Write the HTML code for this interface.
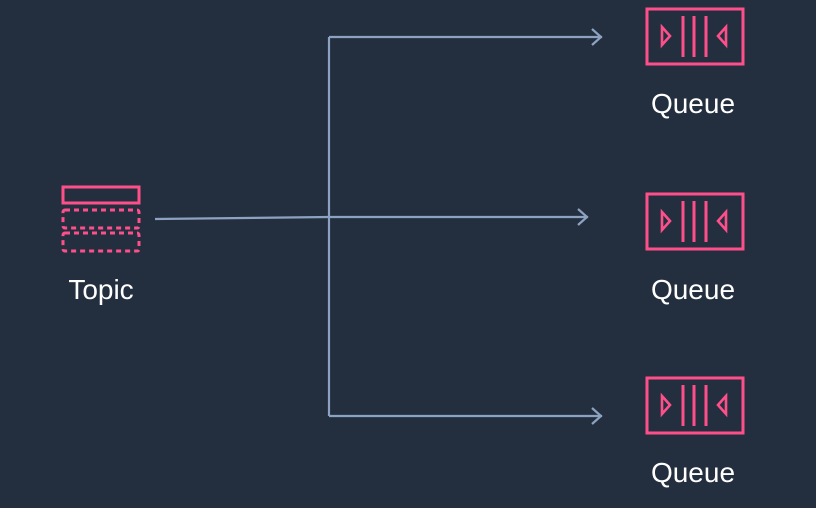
<!DOCTYPE html>
<html><head><style>
html,body{margin:0;padding:0;background:#232f3e;}
svg{display:block}
text{font-family:"Liberation Sans","DejaVu Sans",sans-serif;font-size:28px;fill:#fff;text-anchor:middle}
</style></head><body>
<svg width="816" height="508" viewBox="0 0 816 508">
<rect width="816" height="508" fill="#232f3e"/>
<g stroke="#8da2c0" stroke-width="2.2" fill="none">
<path d="M155 219 L329 217 L588 217"/>
<path d="M329 37 V416"/>
<path d="M329 37 H602"/>
<path d="M329 416 H602"/>
<path d="M592 29 L601 37 L592 45"/>
<path d="M578 209 L587 217 L578 225"/>
<path d="M592 408 L601 416 L592 424"/>
</g>
<g stroke="#ff4f8b" fill="none" stroke-width="3">
<rect x="63" y="187" width="76" height="16"/>
<rect x="63" y="210" width="76" height="18" rx="2" stroke-dasharray="5 4"/>
<rect x="63" y="233" width="76" height="18" rx="2" stroke-dasharray="5 4"/>
</g>
<text x="101" y="299">Topic</text>
<defs>
<g id="q" stroke="#ff4f8b" fill="none" stroke-width="3">
<rect x="647" y="9" width="96" height="55"/>
<path d="M662 27 L670 36 L662 45 Z" stroke-width="2.6"/>
<path d="M683 16 V57 M694 16 V57 M706 16 V57"/>
<path d="M726 27 L718 36 L726 45 Z" stroke-width="2.6"/>
</g>
</defs>
<use href="#q"/>
<use href="#q" y="185"/>
<use href="#q" y="369"/>
<text x="693" y="113">Queue</text>
<text x="693" y="299">Queue</text>
<text x="693" y="482">Queue</text>
</svg>
</body></html>
